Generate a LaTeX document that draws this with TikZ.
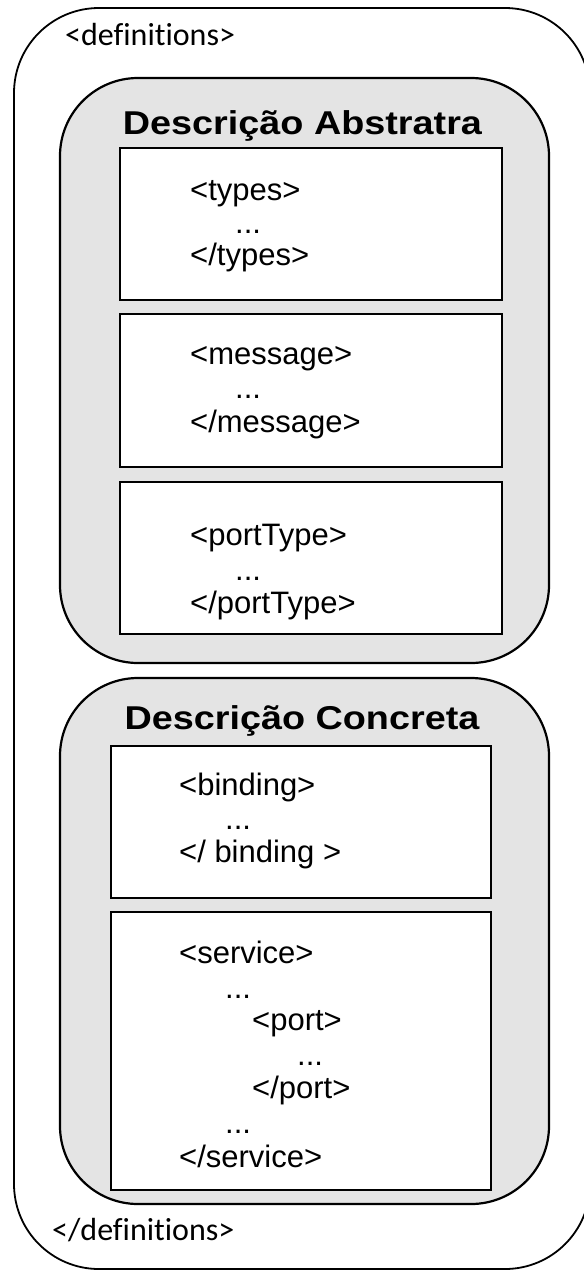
\documentclass[tikz,border=0pt]{standalone}
\usepackage{fontspec}
\usepackage{graphicx}
\setmainfont{Liberation Sans}
\newfontfamily\calfont[Ligatures={NoCommon}]{Carlito}
\definecolor{panelgray}{HTML}{E4E4E4}
\begin{document}
\begin{tikzpicture}[x=1pt,y=-1pt,
  frame/.style={draw=black, line width=1.8pt, rounded corners=85pt, fill=white},
  panel/.style={draw=black, line width=2.2pt, rounded corners=78pt, fill=panelgray},
  block/.style={draw=black, line width=2.2pt, fill=white},
  code/.style={anchor=base west, inner sep=0pt, font=\fontsize{31}{31}\selectfont},
  tag/.style={anchor=base west, inner sep=0pt, font=\calfont\fontsize{32}{32}\selectfont},
  heading/.style={anchor=base, inner sep=0pt, font=\bfseries\fontsize{33}{33}\selectfont}]
\useasboundingbox (0,0) rectangle (584,1270);
\fill[white] (0,0) rectangle (584,1270);

% outer <definitions> frame
\draw[frame] (14,8) rectangle (590,1269);
\node[tag] (defOpen) at (65,45) {<definitions>};
\node[tag] (defClose) at (52,1240) {</definitions>};

% abstract description panel
\draw[panel] (60,78) rectangle (549,663);
\node[heading] (absTitle) at (302.5,134) {\scalebox{1.145}[1]{Descrição Abstratra}};

\draw[block] (120,148) rectangle (502,300);
\node[code] (typesOpen) at (190,200) {<types>};
\node[code] (typesDots) at (235,233) {...};
\node[code] (typesClose) at (190,265) {</types>};

\draw[block] (120,314) rectangle (502,467);
\node[code] (msgOpen) at (190,364) {<message>};
\node[code] (msgDots) at (235,398) {...};
\node[code] (msgClose) at (190,432) {</message>};

\draw[block] (120,482) rectangle (502,634);
\node[code] (ptOpen) at (190,545) {<portType>};
\node[code] (ptDots) at (235,580) {...};
\node[code] (ptClose) at (190,613) {</portType>};

% concrete description panel
\draw[panel] (60,678) rectangle (549,1204);
\node[heading] (conTitle) at (302,729) {\scalebox{1.145}[1]{Descrição Concreta}};

\draw[block] (111,746) rectangle (491,898);
\node[code] (bindOpen) at (179,795) {<binding>};
\node[code] (bindDots) at (225,829) {...};
\node[code] (bindClose) at (179,862) {</ binding >};

\draw[block] (111,912) rectangle (491,1190);
\node[code] (svcOpen) at (179,963) {<service>};
\node[code] (svcDotsA) at (225,998) {...};
\node[code] (portOpen) at (252,1030) {<port>};
\node[code] (portDots) at (297,1065) {...};
\node[code] (portClose) at (252,1098) {</port>};
\node[code] (svcDotsB) at (225,1133) {...};
\node[code] (svcClose) at (179,1167) {</service>};
\end{tikzpicture}
\end{document}
